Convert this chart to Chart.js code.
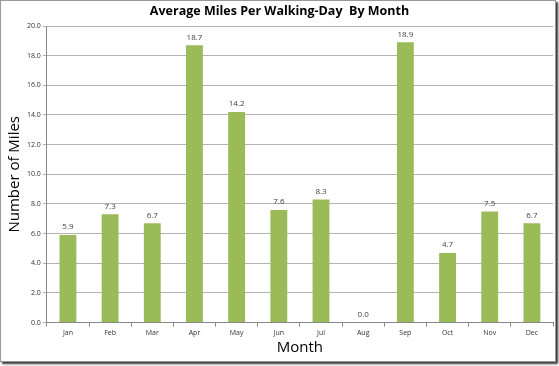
<!DOCTYPE html>
<html><head><meta charset="utf-8">
<script src="https://cdn.jsdelivr.net/npm/chart.js@4"></script>
<style>
html,body{margin:0;padding:0;background:#fff;}
#wrap{position:absolute;left:0;top:0;width:554px;height:360px;border:1px solid #999;box-shadow:2px 2px 2px #333;background:#fff;}
canvas{display:block;}
</style></head><body>
<div id="wrap"><canvas id="c" width="554" height="360"></canvas></div>
<script>
const months = ["Jan","Feb","Mar","Apr","May","Jun","Jul","Aug","Sep","Oct","Nov","Dec"];
const milesPerDay = [5.9,7.3,6.7,18.7,14.2,7.6,8.3,0.0,18.9,4.7,7.5,6.7];
const yTicks = [0,2,4,6,8,10,12,14,16,18,20];

const labelPlugin = {
  id:'labels',
  afterDatasetsDraw(chart){
    const ctx = chart.ctx;
    const meta = chart.getDatasetMeta(0);
    ctx.save();
    ctx.font = '8px "Open Sans", sans-serif';
    ctx.fillStyle = '#404040';
    ctx.textAlign = 'center';
    ctx.textBaseline = 'bottom';
    meta.data.forEach((bar,i)=>{
      ctx.fillText(milesPerDay[i].toFixed(1), bar.x, bar.y - 4);
    });
    ctx.restore();
  }
};

new Chart(document.getElementById('c'), {
  type:'bar',
  data:{labels:months, datasets:[{data:milesPerDay, backgroundColor:'#9bbb59', borderWidth:0, barPercentage:0.4, categoryPercentage:1.0}]},
  options:{
    responsive:false, animation:false,
    layout:{padding:{top:3,right:2,left:5,bottom:4}},
    plugins:{
      legend:{display:false}, tooltip:{enabled:false},
      title:{display:true, text:'Average Miles Per Walking-Day  By Month', color:'#000', font:{family:'"Open Sans", sans-serif', size:12.5, weight:'bold'}, padding:{top:0,bottom:7}}
    },
    scales:{
      x:{
        grid:{display:true, drawOnChartArea:false, drawTicks:true, tickLength:4, offset:true, color:'#888'},
        border:{color:'#888'},
        ticks:{color:'#333', font:{family:'"Open Sans", sans-serif', size:7}, padding:2, maxRotation:0},
        title:{display:true, text:'Month', color:'#000', font:{family:'"Open Sans", sans-serif', size:15}, padding:{top:0,bottom:0}}
      },
      y:{
        min:0, max:20,
        afterBuildTicks(s){ s.ticks = yTicks.map(v=>({value:v})); },
        grid:{color:'#b3b3b3', tickLength:4},
        border:{color:'#888'},
        ticks:{color:'#333', font:{family:'"Open Sans", sans-serif', size:7}, padding:2, callback:v=>Number(v).toFixed(1)},
        title:{display:true, text:'Number of Miles', color:'#000', font:{family:'"Open Sans", sans-serif', size:15}, padding:{top:0,bottom:1}}
      }
    }
  },
  plugins:[labelPlugin]
});
</script></body></html>
